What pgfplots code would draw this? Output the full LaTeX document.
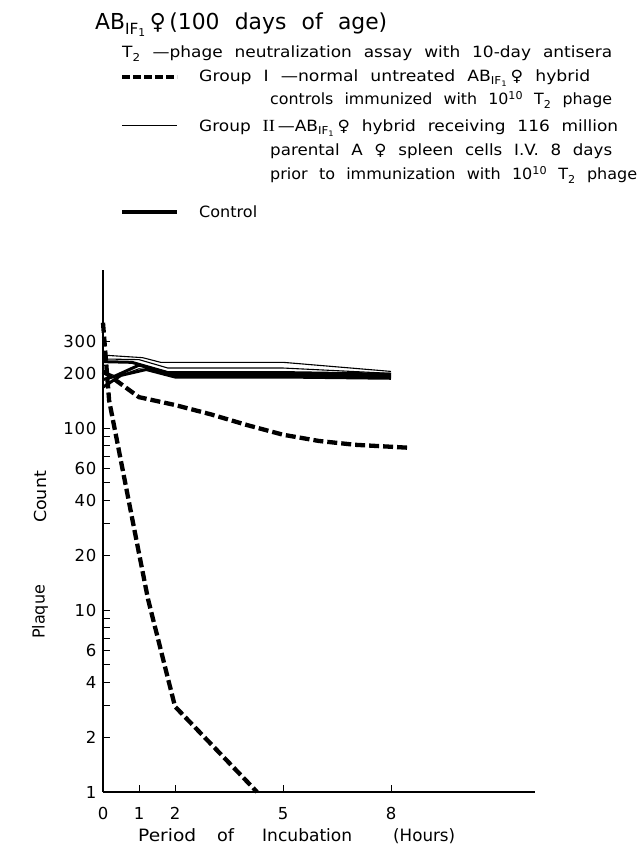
\documentclass[border=0pt]{standalone}
\usepackage{pgfplots}
\pgfplotsset{compat=1.18}
\usepackage{fontspec}
\usepackage{graphicx}
\setmainfont{DejaVu Sans}[WordSpace=2.2]
\newfontfamily\tickf{DejaVu Sans}[LetterSpace=5]
\newfontfamily\sym{DejaVu Sans}
\newfontfamily\serif{Liberation Serif}
\newcommand\fit[2]{\resizebox{#1}{\height}{#2}}
\newcommand\fem{{\sym ♀}}
\newcommand\lf{\fontsize{15.5}{18}\selectfont}
\begin{document}
\begin{tikzpicture}[x=1pt,y=1pt]
\path[use as bounding box] (0,0) rectangle (639,849);
% title
\node[anchor=base west,inner sep=0] at (95,849-30) {\fontsize{22}{26}\selectfont\fit{292pt}{AB\textsubscript{IF\textsubscript{1}}\,\fem\,(100 days of age)}};
% legend
\node[anchor=base west,inner sep=0] at (122,849-58) {\lf\fit{490pt}{T\textsubscript{2} —phage neutralization assay with 10-day antisera}};
\draw[line width=4pt,dash pattern=on 8pt off 3pt] (122,849-77) -- (177,849-77);
\node[anchor=base west,inner sep=0] at (199,849-82) {\lf\fit{391pt}{Group I —normal untreated AB\textsubscript{IF\textsubscript{1}}\,\fem\ hybrid}};
\node[anchor=base west,inner sep=0] at (270,849-105) {\lf\fit{342pt}{controls immunized with 10\textsuperscript{10} T\textsubscript{2} phage}};
\draw[line width=1pt] (122,849-126) -- (177,849-126);
\node[anchor=base west,inner sep=0] at (199,849-132) {\lf\fit{419pt}{Group {\serif\fontsize{17}{18}\selectfont II}\,—AB\textsubscript{IF\textsubscript{1}}\,\fem\ hybrid receiving 116 million}};
\node[anchor=base west,inner sep=0] at (270,849-156) {\lf\fit{342pt}{parental A \fem\ spleen cells I.V. 8 days}};
\node[anchor=base west,inner sep=0] at (270,849-180) {\lf\fit{367pt}{prior to immunization with 10\textsuperscript{10} T\textsubscript{2} phage}};
\draw[line width=4pt] (122,849-212) -- (177,849-212);
\node[anchor=base west,inner sep=0] at (199,849-218) {\lf\fit{58pt}{Control}};
% axis labels
\node[rotate=90,inner sep=0] at (40,849-612) {\fontsize{16.5}{18}\selectfont\fit{54pt}{Plaque}};
\node[rotate=90,inner sep=0] at (40,849-497) {\fontsize{16.5}{18}\selectfont\fit{52pt}{Count}};
\node[anchor=base west,inner sep=0] at (138,7) {\fontsize{17}{20}\selectfont\fit{58pt}{Period}};
\node[anchor=base west,inner sep=0] at (217,7) {\fontsize{17}{20}\selectfont\fit{17pt}{of}};
\node[anchor=base west,inner sep=0] at (262,7) {\fontsize{17}{20}\selectfont\fit{90pt}{Incubation}};
\node[anchor=base west,inner sep=0] at (393,7) {\fontsize{17}{20}\selectfont\fit{62pt}{(Hours)}};
\begin{axis}[at={(103pt,57pt)},anchor=south west,scale only axis,
  width=432pt,height=522pt,
  ymode=log,xmin=0,xmax=12,ymin=1,ymax=740,
  axis x line=bottom,axis y line=left,
  axis line style={-,line width=1.4pt},
  xtick={0,1,2,5,8},xticklabels={0,1,2,5,8},
  ytick={1,2,4,6,10,20,40,60,100,200,300},
  yticklabels={1,2,4,6,10,20,40,60,100,200,300},
  minor ytick={3,5,7,8,9,30,50,70,80,90},
  tick align=inside,major tick length=7pt,minor tick length=7pt,
  every tick/.style={black,line width=1pt},
  ticklabel style={font=\fontsize{16.5}{18}\tickf},
  yticklabel style={xshift=-3pt},
  xticklabel style={yshift=-12pt},
  clip=false]
% Group I (dashed)
\addplot[black,line width=4.3pt,dash pattern=on 10pt off 4pt] coordinates {
 (0,380) (0.17,142) (1,20.5) (1.25,11.5) (2,2.95) (4.28,1)};
\addplot[black,line width=4.3pt,dash pattern=on 10pt off 4pt] coordinates {
 (0,205) (0.2,193) (1,148) (2,134) (3,119) (4,104) (5,92) (6,85) (7,81) (8.5,78)};
% Group II (thin)
\addplot[black,line width=1.1pt] coordinates {(0,252) (1.1,244) (1.6,230) (5,230) (8,205)};
\addplot[black,line width=1.1pt] coordinates {(0,240) (1,238) (1.8,214) (5,214) (8,200)};
\addplot[black,line width=1.1pt] coordinates {(0,205) (0.4,192) (1,212) (2,200) (5,200) (8,196)};
% Control (thick)
\addplot[black,line width=3pt] coordinates {(0,232) (0.8,230) (1.8,202) (5,202) (8,198)};
\addplot[black,line width=3pt] coordinates {(0,185) (0.3,192) (1,222) (2,196) (5,196) (8,192)};
\addplot[black,line width=3pt] coordinates {(0,168) (0.5,195) (1.2,210) (2,191) (5,191) (8,188)};
\end{axis}
\end{tikzpicture}
\end{document}
